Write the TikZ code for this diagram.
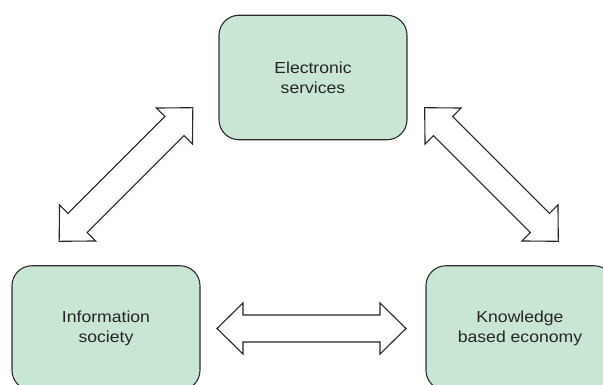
\documentclass[tikz,border=0pt]{standalone}
\usepackage{fontspec}
\setmainfont{Liberation Sans}
\newfontfamily\lblfont[FakeStretch=1.1]{Liberation Sans}
\definecolor{boxgreen}{RGB}{201,229,211}
\definecolor{boxline}{RGB}{45,45,45}
\tikzset{
  box/.style={draw=boxline, fill=boxgreen, line width=1.1pt, rounded corners=20pt,
    minimum width=188pt, minimum height=124.5pt, inner sep=0pt, align=center,
    text=black!85, font={\lblfont\fontsize{16}{20}\selectfont}},
  blockarrow/.style={draw=black!85, fill=white, line width=1.1pt, line join=miter},
  dblarrow/.pic={
    \draw[blockarrow] (-94.5,0) -- (-68.5,25.5) -- (-68.5,13.5) -- (68.5,13.5) -- (68.5,25.5)
      -- (94.5,0) -- (68.5,-25.5) -- (68.5,-13.5) -- (-68.5,-13.5) -- (-68.5,-25.5) -- cycle;
  }
}
\begin{document}
\begin{tikzpicture}[x=1pt,y=-1pt]
\useasboundingbox (0,0) rectangle (603,385);
\clip (0,0) rectangle (603,385);
\fill[white] (0,0) rectangle (603,385);
\node[box] (es) at (313,77.5) {Electronic\\services};
\node[box] (is) at (106,328) {Information\\society};
\node[box] (kbe) at (520,328) {Knowledge\\based economy};
\pic[rotate=45] (a1) at (126,174.5) {dblarrow};
\pic[rotate=-45] (a2) at (491.5,174.5) {dblarrow};
\pic (a3) at (311.5,328.5) {dblarrow};
\end{tikzpicture}
\end{document}
